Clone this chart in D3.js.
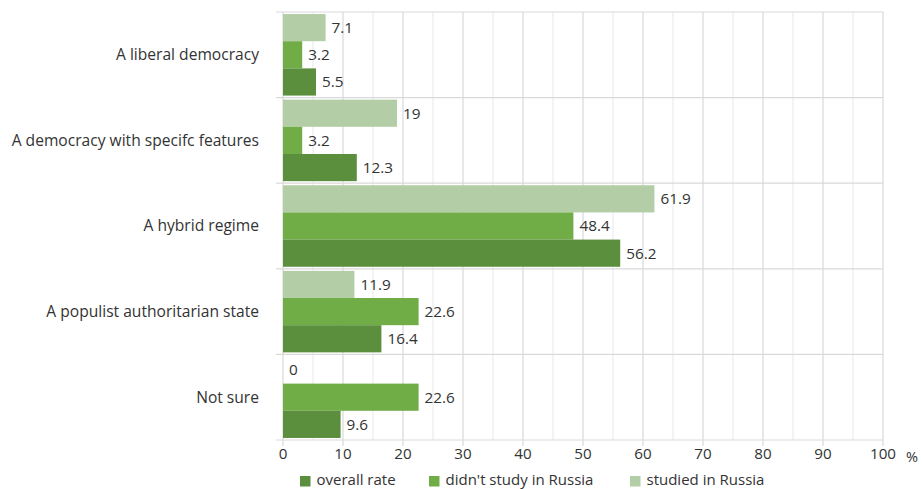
<!DOCTYPE html>
<html>
<head>
<meta charset="utf-8">
<script src="https://cdn.jsdelivr.net/npm/d3@7"></script>
<style>
  body { margin: 0; background: #fff; }
  svg text { font-family: "Open Sans", "Noto Sans", sans-serif; fill: #333; }
</style>
</head>
<body>
<svg id="chart" width="922" height="489"></svg>
<script>
// Answers to "What kind of political regime is Russia?" (%)
const categories = [
  "A liberal democracy",
  "A democracy with specifc features",
  "A hybrid regime ",
  "A populist authoritarian state",
  "Not sure"
];
const seriesNames = ["studied in Russia", "didn't study in Russia", "overall rate"];
const studiedInRussia = [7.1, 19, 61.9, 11.9, 0];
const didntStudyInRussia = [3.2, 3.2, 48.4, 22.6, 22.6];
const overallRate = [5.5, 12.3, 56.2, 16.4, 9.6];
const xTicks = [0, 10, 20, 30, 40, 50, 60, 70, 80, 90, 100];
const legendOrder = ["overall rate", "didn't study in Russia", "studied in Russia"];

const colors = {
  "studied in Russia": "#b3cea7",
  "didn't study in Russia": "#70ad47",
  "overall rate": "#5b8f3e"
};

const series = [studiedInRussia, didntStudyInRussia, overallRate];

const svg = d3.select("#chart");
const plotLeft = 283, plotRight = 883, plotTop = 12, plotBottom = 440;

const x = d3.scaleLinear().domain([0, 100]).range([plotLeft, plotRight]);
const y = d3.scaleBand().domain(categories).range([plotTop, plotBottom]).padding(0);
const sub = d3.scaleBand().domain(seriesNames).range([0, y.bandwidth()])
  .paddingInner(0).paddingOuter(0.075);

// minor gridlines every 5
const minor = d3.range(5, 100, 10);
svg.append("g").selectAll("line").data(minor).join("line")
  .attr("x1", d => x(d)).attr("x2", d => x(d))
  .attr("y1", plotTop).attr("y2", plotBottom)
  .attr("stroke", "#ececec").attr("stroke-width", 1.2);

// major gridlines every 10
svg.append("g").selectAll("line").data(xTicks.slice(1)).join("line")
  .attr("x1", d => x(d)).attr("x2", d => x(d))
  .attr("y1", plotTop).attr("y2", plotBottom + 6)
  .attr("stroke", "#d9d9d9").attr("stroke-width", 1.2);

// category separators
const seps = categories.map(c => y(c)).concat([plotBottom]);
svg.append("g").selectAll("line").data(seps).join("line")
  .attr("x1", plotLeft - 7).attr("x2", plotRight)
  .attr("y1", d => d).attr("y2", d => d)
  .attr("stroke", "#d9d9d9").attr("stroke-width", 1.2);

// left axis line
svg.append("line")
  .attr("x1", plotLeft).attr("x2", plotLeft).attr("y1", plotTop).attr("y2", plotBottom + 6)
  .attr("stroke", "#d9d9d9").attr("stroke-width", 1.2);

// bars
const groups = svg.append("g").selectAll("g").data(categories).join("g")
  .attr("transform", c => `translate(0,${y(c)})`);

seriesNames.forEach((name, si) => {
  groups.append("rect")
    .attr("x", x(0))
    .attr("y", sub(name))
    .attr("width", (c, i) => x(series[si][i]) - x(0))
    .attr("height", sub.bandwidth())
    .attr("fill", colors[name]);
  groups.append("text")
    .attr("x", (c, i) => x(series[si][i]) + 6)
    .attr("y", sub(name) + sub.bandwidth() / 2)
    .attr("dy", "0.35em")
    .attr("font-size", 15.3)
    .text((c, i) => series[si][i]);
});

// category labels
svg.append("g").selectAll("text").data(categories).join("text")
  .attr("x", 259)
  .attr("y", c => y(c) + y.bandwidth() / 2)
  .attr("dy", "0.35em")
  .attr("text-anchor", "end")
  .attr("font-size", 15.6)
  .text(c => c);

// x tick labels
svg.append("g").selectAll("text").data(xTicks).join("text")
  .attr("x", d => x(d))
  .attr("y", 454)
  .attr("dy", "0.35em")
  .attr("text-anchor", "middle")
  .attr("font-size", 15.2)
  .text(d => d);

svg.append("text")
  .attr("x", 906).attr("y", 457).attr("dy", "0.35em")
  .attr("font-size", 14.5).text("%");

// legend
const legendX = [300, 429, 630];
const lg = svg.append("g").selectAll("g").data(legendOrder).join("g")
  .attr("transform", (d, i) => `translate(${legendX[i]},476)`);
lg.append("rect").attr("width", 10.5).attr("height", 10.5).attr("fill", d => colors[d]);
lg.append("text").attr("x", 16.5).attr("y", 4).attr("dy", "0.35em")
  .attr("font-size", 15).text(d => d);
</script>
</body>
</html>
